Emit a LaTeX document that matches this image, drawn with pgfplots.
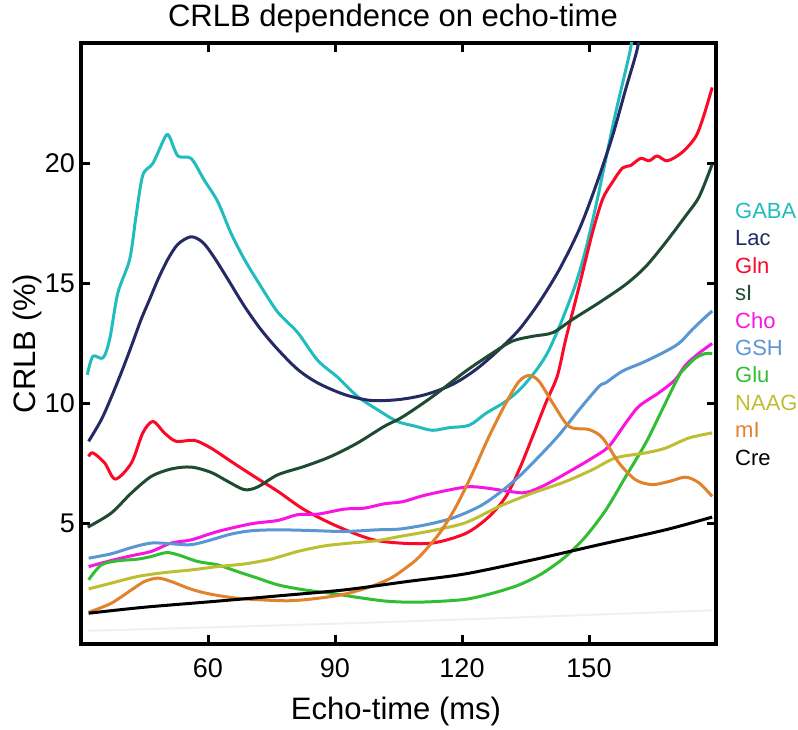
\documentclass[border=0pt]{standalone}
\usepackage{fontspec}
\setmainfont{Liberation Sans}
\usepackage{pgfplots}
\pgfplotsset{compat=1.18}
\definecolor{cGABA}{RGB}{32,188,190}
\definecolor{cLac}{RGB}{38,42,100}
\definecolor{cGln}{RGB}{250,10,40}
\definecolor{cSI}{RGB}{30,75,50}
\definecolor{cCho}{RGB}{250,20,225}
\definecolor{cGSH}{RGB}{90,150,210}
\definecolor{cGlu}{RGB}{50,190,50}
\definecolor{cNAAG}{RGB}{190,190,50}
\definecolor{cMI}{RGB}{225,130,45}
\begin{document}
\begin{tikzpicture}
\useasboundingbox (-81pt,-86pt) rectangle (717pt,644pt);
\begin{axis}[
  scale only axis, width=635pt, height=601pt,
  xmin=30, xmax=180, ymin=0, ymax=25,
  xtick={60,90,120,150}, ytick={5,10,15,20},
  tick align=inside, major tick length=9pt,
  every tick/.style={black, line width=3pt},
  axis line style={line width=4.5pt},
  tick label style={font=\fontsize{27}{30}\selectfont},
  /pgf/number format/assume math mode=true,
  xticklabel style={inner sep=0pt, anchor=north, yshift=-14pt},
  yticklabel style={inner sep=0pt, anchor=east, xshift=-6pt},
  every axis plot/.append style={line width=3pt, smooth, line join=round, no markers},
]
\addplot[black!6, line width=2pt] coordinates {(31.8,0.55) (100,0.9) (179.1,1.4)};
% GABA
\addplot[cGABA] coordinates {(31.5,11.2) (32.8,11.97) (35.2,11.9) (36.8,12.7) (38.7,14.6) (41.5,16.0) (43.0,17.8) (44.6,19.5) (47.0,20.0) (49.9,21.1) (50.9,21.1) (52.9,20.3) (56.0,20.2) (59.1,19.3) (62.3,18.4) (65.4,17.1) (68.6,16.0) (72.4,14.9) (76.5,13.8) (81.2,12.95) (85.9,11.8) (90.6,11.1) (95.3,10.3) (100.0,9.75) (104.7,9.26) (109.2,9.05) (113.0,8.89) (117.0,9.0) (121.7,9.1) (125.7,9.6) (130.4,10.1) (134.3,10.7) (138.2,11.55) (140.6,12.25) (143.7,13.5) (146.9,15.0) (149.2,16.4) (151.6,18.2) (154.0,20.2) (156.3,22.1) (158.3,23.6) (159.8,24.75) (161.0,26)};
% Lac
\addplot[cLac] coordinates {(31.8,8.43) (34.8,9.33) (37.1,10.24) (39.5,11.28) (41.9,12.39) (44.2,13.5) (46.2,14.33) (48.2,15.17) (50.5,16.0) (52.9,16.63) (56.0,16.94) (58.8,16.7) (61.5,16.07) (64.7,15.17) (68.6,14.05) (72.5,13.08) (76.5,12.25) (81.2,11.42) (85.9,10.86) (92.2,10.38) (98.5,10.13) (105.2,10.17) (111.5,10.38) (117.8,10.8) (123.3,11.42) (128.8,12.25) (133.5,13.08) (138.2,14.2) (143.0,15.58) (147.7,17.25) (151.6,19.05) (155.5,21.1) (158.7,23.1) (161.4,24.75) (162.5,26)};
% Gln
\addplot[cGln] coordinates {(31.8,7.8) (32.8,7.95) (35.6,7.53) (38.1,6.86) (41.9,7.53) (44.6,8.78) (47.0,9.26) (49.7,8.78) (52.5,8.43) (56.8,8.47) (60.7,8.15) (65.4,7.6) (70.9,6.97) (76.5,6.35) (82.8,5.58) (90.6,4.89) (98.5,4.36) (105.2,4.2) (113.1,4.2) (120.9,4.6) (126.4,5.3) (130.4,6.14) (133.5,7.25) (136.7,8.64) (139.8,10.03) (142.5,11.14) (144.5,12.67) (147.7,14.9) (150.8,17.1) (153.2,18.5) (155.5,19.2) (157.9,19.8) (159.8,19.9) (162.2,20.2) (164.2,20.1) (166.1,20.3) (168.5,20.1) (172.0,20.45) (175.2,21.1) (177.1,21.97) (179.1,23.15)};
% sI
\addplot[cSI] coordinates {(31.6,4.86) (37.1,5.44) (41.9,6.28) (46.6,6.97) (51.3,7.28) (56.0,7.36) (60.7,7.14) (64.7,6.76) (68.6,6.42) (71.7,6.53) (76.5,7.04) (82.8,7.39) (89.0,7.8) (95.3,8.36) (101.6,9.05) (106,9.45) (113.1,10.3) (120.9,11.35) (127.2,12.1) (131.9,12.6) (136.7,12.8) (141.4,12.95) (146.1,13.5) (152.4,14.2) (158.7,14.96) (163.4,15.7) (168.1,16.7) (172.8,17.8) (176.0,18.6) (179.1,19.96)};
% Cho
\addplot[cCho] coordinates {(31.8,3.22) (37.1,3.47) (41.9,3.67) (46.6,3.85) (51.3,4.2) (56.0,4.33) (62.3,4.68) (70.2,5.0) (76.5,5.14) (81.2,5.38) (85.9,5.4) (92.2,5.61) (96.9,5.65) (101.6,5.83) (106,5.92) (111.5,6.2) (120.9,6.53) (125.6,6.49) (131.1,6.35) (135.1,6.3) (139.8,6.63) (146.1,7.25) (150.8,7.74) (154.7,8.22) (158.7,9.2) (161.8,9.89) (166.5,10.45) (170.4,11.0) (172.8,11.6) (176,12.1) (179.1,12.5)};
% GSH
\addplot[cGSH] coordinates {(31.8,3.57) (37.1,3.75) (41.9,4.01) (46.6,4.2) (51.3,4.17) (56.0,4.13) (60.7,4.33) (65.4,4.57) (70.2,4.71) (76.5,4.75) (84.3,4.72) (92.2,4.68) (100,4.75) (105.2,4.78) (111.5,4.96) (117.8,5.24) (124.1,5.72) (128.8,6.28) (133.5,6.97) (138.2,7.8) (143.0,8.71) (147.7,9.75) (152.4,10.72) (153.9,10.86) (157.9,11.35) (162.6,11.7) (167.3,12.1) (171.2,12.5) (174.4,13.08) (177.5,13.6) (179.1,13.85)};
% Glu
\addplot[cGlu] coordinates {(31.8,2.67) (34.8,3.29) (38.7,3.46) (43.4,3.53) (46.6,3.64) (50.1,3.8) (52.9,3.71) (57.6,3.43) (62.3,3.29) (67.0,3.01) (71.7,2.74) (76.5,2.46) (82.8,2.25) (89.0,2.11) (95.3,1.94) (101.6,1.79) (107.1,1.74) (113.1,1.76) (120.9,1.86) (127.2,2.11) (133.5,2.46) (139.0,2.94) (144.5,3.64) (149.2,4.47) (154.0,5.58) (158.7,6.97) (163.4,8.36) (167.3,9.75) (171.2,11.14) (172.8,11.49) (175.2,11.9) (177.5,12.08) (179.1,12.08)};
% NAAG
\addplot[cNAAG] coordinates {(31.8,2.29) (37.1,2.53) (43.4,2.81) (49.7,2.97) (56.0,3.08) (62.3,3.22) (68.6,3.33) (74.9,3.53) (81.2,3.85) (87.5,4.08) (93.7,4.2) (100,4.3) (105.2,4.47) (113.1,4.72) (120.9,5.05) (128.8,5.72) (136.7,6.28) (144.5,6.76) (150.8,7.25) (156.3,7.74) (163.4,7.95) (168.1,8.15) (173.6,8.57) (179.1,8.78)};
% mI
\addplot[cMI] coordinates {(31.8,1.32) (37.1,1.69) (41.9,2.25) (45.0,2.6) (48.2,2.74) (51.3,2.6) (56.0,2.28) (60.7,2.07) (67.0,1.9) (73.3,1.83) (79.6,1.8) (85.9,1.9) (92.2,2.07) (98.5,2.39) (103.2,2.74) (107,3.2) (110,3.64) (114.7,4.61) (118.6,5.72) (122.5,7.11) (126.4,8.64) (130.4,10.03) (133.5,10.93) (135.9,11.17) (138.2,10.93) (141.4,10.03) (145.3,9.05) (150,8.92) (153.2,8.57) (157.1,7.53) (161.0,6.83) (164.9,6.63) (168.9,6.76) (172.8,6.94) (176,6.7) (179.1,6.14)};
% Cre
\addplot[black] coordinates {(31.8,1.28) (45,1.53) (60.7,1.76) (76.5,2.0) (92.2,2.25) (107.1,2.6) (120.9,2.92) (136.7,3.5) (152.4,4.13) (168.1,4.75) (179.1,5.28)};
\end{axis}
\node[font=\fontsize{31}{34}\selectfont, anchor=base] at (312pt,617pt) {CRLB dependence on echo-time};
\node[font=\fontsize{31}{34}\selectfont, anchor=base] at (315pt,-76pt) {Echo-time (ms)};
\node[font=\fontsize{31}{34}\selectfont, anchor=base, rotate=90] at (-45pt,300.5pt) {CRLB (\%)};
\begin{scope}[every node/.style={font=\fontsize{22}{24}\selectfont, anchor=base west, inner sep=0pt}]
\node[text=cGABA] at (654pt,425.5pt) {GABA};
\node[text=cLac] at (654pt,398.1pt) {Lac};
\node[text=cGln] at (654pt,370.7pt) {Gln};
\node[text=cSI] at (654pt,343.3pt) {sI};
\node[text=cCho] at (654pt,315.9pt) {Cho};
\node[text=cGSH] at (654pt,288.5pt) {GSH};
\node[text=cGlu] at (654pt,261.1pt) {Glu};
\node[text=cNAAG] at (654pt,233.7pt) {NAAG};
\node[text=cMI] at (654pt,206.3pt) {mI};
\node[text=black] at (654pt,178.9pt) {Cre};
\end{scope}
\end{tikzpicture}
\end{document}
